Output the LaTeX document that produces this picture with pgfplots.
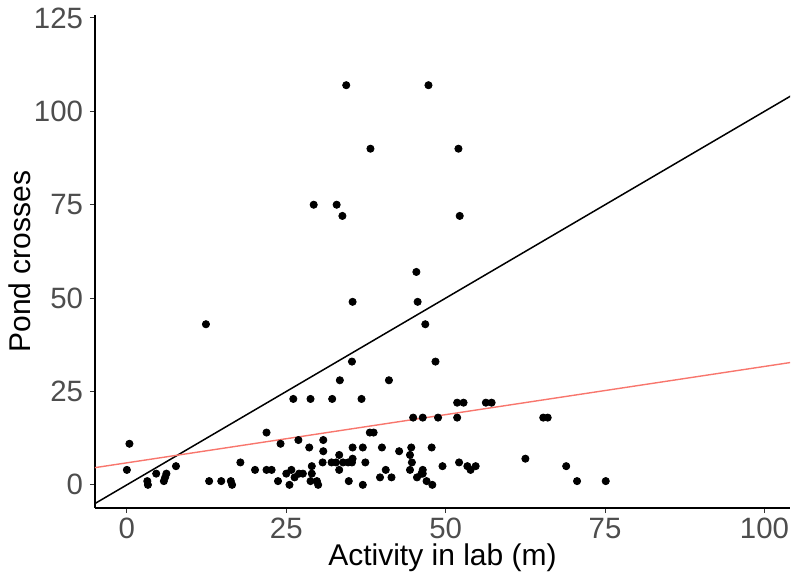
\documentclass[border=0pt]{standalone}
\usepackage{fontspec}
\setmainfont{Liberation Sans}
\usepackage{pgfplots}
\pgfplotsset{compat=1.18}
\definecolor{ggred}{HTML}{F8766D}
\definecolor{ticktext}{HTML}{4D4D4D}

\begin{document}
\begin{tikzpicture}
\useasboundingbox (-47.5pt,-34.5pt) rectangle (348.5pt,254pt);
\begin{axis}[
  at={(0,0)}, anchor=south west,
  scale only axis,
  width=347.5pt, height=246.5pt,
  xmin=-5, xmax=104,
  ymin=-6.2, ymax=125.8,
  xtick={0,25,50,75,100},
  ytick={0,25,50,75,100,125},
  axis lines*=left,
  axis line style={black, line width=0.55pt, -},
  tick align=outside,
  major tick length=2.6pt,
  tick style={black!80, line width=0.5pt},
  /pgf/number format/assume math mode=true,
  tick label style={font=\fontsize{14.7}{16}\selectfont, text=ticktext},
  xticklabel style={inner sep=1pt, yshift=-1.2pt},
  yticklabel style={inner sep=1pt, xshift=-2.2pt},
  label style={font=\fontsize{15}{17}\selectfont},
  xlabel={Activity in lab (m)},
  ylabel={Pond crosses},
  xlabel style={at={(axis description cs:0.5,0)}, anchor=center, yshift=-24.8pt},
  ylabel style={at={(axis description cs:0,0.5)}, anchor=center, rotate=0, yshift=37.75pt},
]
\addplot[only marks, mark=*, mark size=1.8pt, color=black] coordinates {
(0.4,11)(0,4)(3.2,1)(3.3,0)(4.6,3)(5.8,1)(6,2)(6.2,3)(7.7,5)(12.9,1)(14.8,1)
(16.3,1)(16.5,0)(17.8,6)(20.1,4)(21.9,4)(22.7,4)(21.9,14)(24.1,11)(23.7,1)(25,3)(25.5,0)
(26.1,23)(28.8,23)(32.2,23)(36.8,23)
(51.8,22)(52.8,22)(56.3,22)(57.2,22)
(44.9,18)(46.4,18)(48.8,18)(51.8,18)
(38.1,14)(38.7,14)
(26.9,12)(30.8,12)(28.6,10)(30.8,9)(33.3,8)(35.4,10)(37,10)(40,10)(42.7,9)(44.6,10)(44.4,8)(47.8,10)
(30.7,6)(32.1,6)(32.8,6)(33.9,6)(34.7,6)(35.3,6)(35.4,7)(33.3,4)(37.4,6)(44.7,6)(44.4,4)
(46.4,4)(46.2,3)(49.5,5)(52.1,6)(53.4,5)(53.9,4)(54.7,5)
(25.8,4)(26.3,2)(27,3)(27.6,3)(29,5)(29,3)(28.8,1)(29.8,1)(30,0)(34.8,1)(37,0)(39.7,2)
(40.6,4)(41.5,2)(45.5,2)(46.4,3)(47,1)(47.9,0)
(65.3,18)(66,18)(62.5,7)(68.9,5)(70.6,1)(75.1,1)
(34.4,107)(47.3,107)(38.2,90)(52,90)(29.3,75)(32.9,75)(33.8,72)(52.2,72)
(45.4,57)(35.4,49)(45.6,49)(12.4,43)(46.8,43)(35.3,33)(48.4,33)(33.4,28)(41.1,28)
};
% identity line and fitted line
\addplot[black, line width=0.75pt] coordinates {(-7,-7) (106,106)};
\addplot[ggred, line width=0.7pt] coordinates {(-7,4.09) (106,33.25)};
\end{axis}
\end{tikzpicture}
\end{document}
